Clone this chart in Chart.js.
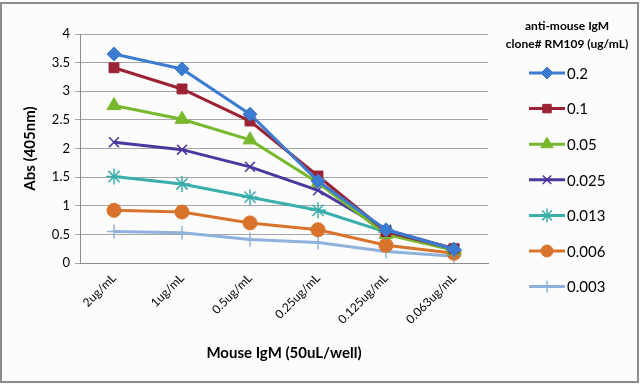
<!DOCTYPE html>
<html><head><meta charset="utf-8">
<script src="https://cdn.jsdelivr.net/npm/chart.js@4.4.0/dist/chart.umd.min.js"></script>
<style>html,body{margin:0;padding:0;background:#fff}#wrap{width:640px;height:384px}</style>
</head><body><div id="wrap"><canvas id="c" width="640" height="384"></canvas></div>
<script>
const categories = ['2ug/mL','1ug/mL','0.5ug/mL','0.25ug/mL','0.125ug/mL','0.063ug/mL'];
const seriesNames = ['0.2','0.1','0.05','0.025','0.013','0.006','0.003'];
const s02   = [3.65, 3.39, 2.60, 1.43, 0.58, 0.24];
const s01   = [3.41, 3.04, 2.48, 1.52, 0.55, 0.25];
const s005  = [2.75, 2.51, 2.15, 1.40, 0.50, 0.22];
const s0025 = [2.11, 1.98, 1.68, 1.27, 0.58, 0.25];
const s0013 = [1.51, 1.38, 1.15, 0.92, 0.54, 0.22];
const s0006 = [0.92, 0.89, 0.70, 0.58, 0.31, 0.17];
const s0003 = [0.55, 0.53, 0.41, 0.36, 0.20, 0.12];
const yTicks = [0, 0.5, 1, 1.5, 2, 2.5, 3, 3.5, 4];
const legendTitle = ['anti-mouse IgM', 'clone# RM109 (ug/mL)'];
const xTitle = 'Mouse IgM (50uL/well)';
const yTitle = 'Abs (405nm)';

const values = [s02, s01, s005, s0025, s0013, s0006, s0003];
const colors = ['#3b7bd0','#9b2335','#78b82c','#4c36a0','#3aaeaa','#d9732b','#8fb2dc'];
const styles = ['rectRot','rect','triangle','crossRot','star','circle','cross'];
const radii  = [7, 7, 8, 7, 8, 7, 7];

const datasets = values.map((v, i) => ({
  label: seriesNames[i],
  data: v,
  borderColor: colors[i],
  backgroundColor: colors[i],
  borderWidth: 3,
  pointStyle: styles[i],
  pointRadius: radii[i],
  pointHoverRadius: radii[i],
  pointBorderWidth: (styles[i]==='crossRot'||styles[i]==='star'||styles[i]==='cross') ? 1.5 : 1,
  pointBorderColor: colors[i],
  pointBackgroundColor: colors[i],
  tension: 0,
  fill: false
}));

const framePlugin = {
  id: 'frame',
  beforeDraw(chart) {
    const ctx = chart.ctx;
    ctx.save();
    ctx.fillStyle = '#fcfcfc';
    ctx.fillRect(0, 0, chart.width, chart.height);
    ctx.restore();
  },
  afterDraw(chart) {
    const ctx = chart.ctx;
    ctx.save();
    ctx.strokeStyle = '#8c8c8c';
    ctx.lineWidth = 2;
    ctx.strokeRect(1, 3, chart.width - 3, chart.height - 5);
    // legend
    ctx.fillStyle = '#000';
    ctx.font = 'bold 12px Lato, "Open Sans", sans-serif';
    ctx.textAlign = 'center';
    ctx.textBaseline = 'middle';
    ctx.fillText(legendTitle[0], 567, 26);
    ctx.fillText(legendTitle[1], 567, 44);
    chart.data.datasets.forEach((ds, i) => {
      const y = 73 + i * 35.6;
      ctx.strokeStyle = ds.borderColor;
      ctx.lineWidth = 3;
      ctx.beginPath();
      ctx.moveTo(529, y); ctx.lineTo(565, y);
      ctx.stroke();
      ctx.fillStyle = ds.backgroundColor;
      ctx.strokeStyle = ds.borderColor;
      ctx.lineWidth = ds.pointBorderWidth;
      Chart.helpers.drawPoint(ctx, {pointStyle: ds.pointStyle, radius: ds.pointRadius - 1, borderWidth: ds.pointBorderWidth, rotation: 0}, 547, y);
      ctx.fillStyle = '#000';
      ctx.font = '15px Lato, "Open Sans", sans-serif';
      ctx.textAlign = 'left';
      ctx.fillText(ds.label, 567, y + 1);
    });
    ctx.restore();
  }
};

new Chart(document.getElementById('c'), {
  type: 'line',
  data: { labels: categories, datasets },
  options: {
    responsive: false,
    animation: false,
    layout: { padding: { top: 34, right: 152, left: 0, bottom: 0 } },
    plugins: { legend: { display: false }, tooltip: { enabled: false } },
    scales: {
      x: {
        offset: true,
        grid: { display: false, drawTicks: false },
        border: { display: true, color: '#8c8c8c', width: 1 },
        ticks: { color: '#000', font: { family: 'Lato, "Open Sans", sans-serif', size: 12 }, maxRotation: 45, minRotation: 45, padding: 8 },
        title: { display: true, text: xTitle, color: '#000', font: { family: 'Lato, "Open Sans", sans-serif', size: 15, weight: 'bold' }, padding: { top: 4, bottom: 22 } },
        afterFit(scale) { scale.height = 121; }
      },
      y: {
        min: 0, max: 4,
        afterBuildTicks(scale) { scale.ticks = yTicks.map(v => ({ value: v })); },
        grid: { color: '#a6a6a6', lineWidth: 1, tickLength: 5 },
        border: { display: true, color: '#8c8c8c', width: 1 },
        ticks: { color: '#000', font: { family: 'Lato, "Open Sans", sans-serif', size: 13 }, padding: 5, callback: (v) => String(v) },
        title: { display: true, text: yTitle, color: '#000', font: { family: 'Lato, "Open Sans", sans-serif', size: 15, weight: 'bold' }, padding: { top: 21, bottom: 0 } },
        afterFit(scale) { scale.width = 80; }
      }
    }
  },
  plugins: [framePlugin]
});
</script>
</body></html>
